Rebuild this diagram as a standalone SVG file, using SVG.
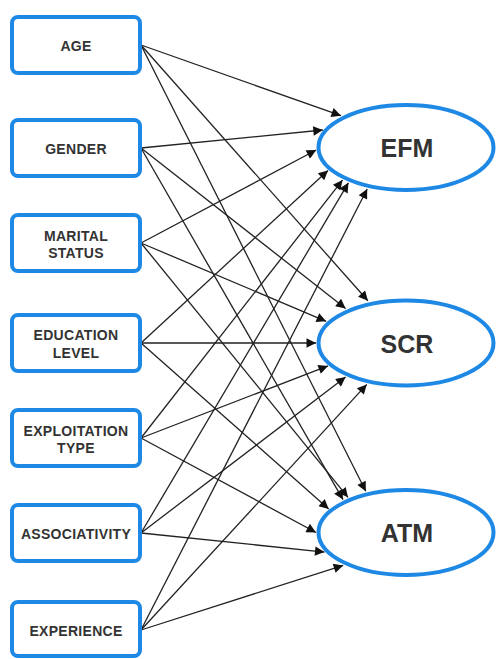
<svg xmlns="http://www.w3.org/2000/svg" width="496" height="659" viewBox="0 0 496 659">
<style>
.box{fill:#fff;stroke:#1e88e5;stroke-width:4}
.ell{fill:#fff;stroke:#1e88e5;stroke-width:4}
.lbl{font-family:"Liberation Sans",Arial,sans-serif;font-weight:bold;font-size:14px;fill:#333;text-anchor:middle;letter-spacing:0.3px}
.big{font-family:"Liberation Sans",Arial,sans-serif;font-weight:bold;font-size:25px;fill:#333;text-anchor:middle}
.edge{stroke:#222;stroke-width:1.3;fill:none;marker-end:url(#arr)}
</style>
<defs>
<marker id="arr" viewBox="0 0 10 10" refX="10" refY="5" markerWidth="12" markerHeight="9.5" markerUnits="userSpaceOnUse" orient="auto">
<path d="M0,0 L10,5 L0,10 z" fill="#111"/>
</marker>
</defs>
<g id="connectors">
<line class="edge" x1="141" y1="45" x2="341" y2="115.7"/>
<line class="edge" x1="141" y1="45" x2="367.9" y2="300.8"/>
<line class="edge" x1="141" y1="45" x2="365.8" y2="491.3"/>
<line class="edge" x1="141" y1="148" x2="322.8" y2="130"/>
<line class="edge" x1="141" y1="148" x2="345.6" y2="308.4"/>
<line class="edge" x1="141" y1="148" x2="343" y2="499.6"/>
<line class="edge" x1="141" y1="243" x2="316.2" y2="150"/>
<line class="edge" x1="141" y1="243" x2="326.1" y2="321.3"/>
<line class="edge" x1="141" y1="243" x2="348" y2="497.3"/>
<line class="edge" x1="141" y1="343" x2="328" y2="170.4"/>
<line class="edge" x1="141" y1="343" x2="316" y2="343"/>
<line class="edge" x1="141" y1="343" x2="328.7" y2="508.9"/>
<line class="edge" x1="141" y1="438" x2="342.5" y2="180.1"/>
<line class="edge" x1="141" y1="438" x2="328" y2="365.9"/>
<line class="edge" x1="141" y1="438" x2="316" y2="532.5"/>
<line class="edge" x1="141" y1="533" x2="348.4" y2="182.8"/>
<line class="edge" x1="141" y1="533" x2="345.6" y2="377.1"/>
<line class="edge" x1="141" y1="533" x2="324.5" y2="552.1"/>
<line class="edge" x1="141" y1="630" x2="367.2" y2="189"/>
<line class="edge" x1="141" y1="630" x2="366.8" y2="384.4"/>
<line class="edge" x1="141" y1="630" x2="343.2" y2="565.4"/>
</g>
<g id="age"><rect class="box" x="12" y="17" width="128" height="56" rx="6"/><text class="lbl" x="76" y="50.5">AGE</text></g>
<g id="gender"><rect class="box" x="12" y="120" width="128" height="56" rx="6"/><text class="lbl" x="76" y="153.5">GENDER</text></g>
<g id="marital"><rect class="box" x="12" y="215" width="128" height="56" rx="6"/><text class="lbl" x="76" y="240.5">MARITAL</text><text class="lbl" x="76" y="258">STATUS</text></g>
<g id="education"><rect class="box" x="12" y="315" width="128" height="56" rx="6"/><text class="lbl" x="76" y="340">EDUCATION</text><text class="lbl" x="76" y="357.5">LEVEL</text></g>
<g id="exploitation"><rect class="box" x="12" y="410" width="128" height="56" rx="6"/><text class="lbl" x="76" y="436">EXPLOITATION</text><text class="lbl" x="76" y="453">TYPE</text></g>
<g id="associativity"><rect class="box" x="12" y="505" width="128" height="56" rx="6"/><text class="lbl" x="76" y="539">ASSOCIATIVITY</text></g>
<g id="experience"><rect class="box" x="12" y="602" width="128" height="54" rx="6"/><text class="lbl" x="76" y="635.5">EXPERIENCE</text></g>
<g id="efm"><ellipse class="ell" cx="406" cy="147.5" rx="87.5" ry="42.5"/><text class="big" x="407" y="157">EFM</text></g>
<g id="scr"><ellipse class="ell" cx="406" cy="343" rx="87.5" ry="42.5"/><text class="big" x="407" y="352.5">SCR</text></g>
<g id="atm"><ellipse class="ell" cx="406" cy="532.5" rx="87.5" ry="42.5"/><text class="big" x="407" y="542">ATM</text></g>
</svg>
